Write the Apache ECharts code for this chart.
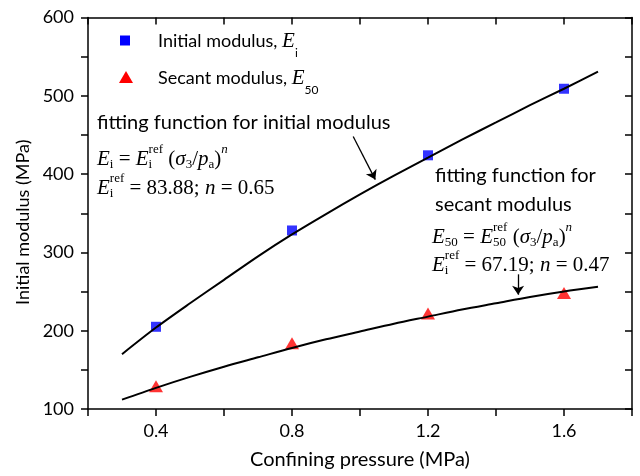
<!DOCTYPE html>
<html>
<head>
<meta charset="utf-8">
<script src="https://cdn.jsdelivr.net/npm/echarts@6/dist/echarts.min.js"></script>
<style>
  html, body { margin: 0; padding: 0; background: #fff; }
  #chart { width: 640px; height: 476px; }
</style>
</head>
<body>
<div id="chart"></div>
<script>
// measured points
var pressure = [0.4, 0.8, 1.2, 1.6];
var initialModulus = [205, 328, 424, 509];
var secantModulus = [129, 184, 222, 248];

// fitted curves
var fitPressure = [0.3, 0.4, 0.5, 0.6, 0.7, 0.8, 0.9, 1.0, 1.1, 1.2, 1.3, 1.4, 1.5, 1.6, 1.7];
var fitInitial = [170, 204, 235, 265, 295, 323, 349, 374, 398, 421, 444, 466, 488, 509, 531];
var fitSecant = [112, 127, 141, 154, 166, 178, 189, 199, 209, 218, 227, 235, 243, 250, 256];

// annotation arrows (data coords)
var arrowInitial = [[0.98, 448], [1.045, 393]];
var arrowSecant = [[1.465, 272], [1.465, 246]];

function pairs(xs, ys) {
  return xs.map(function (x, i) { return [x, ys[i]]; });
}

// --- small text layout helper for the formulas ---
var ctx = document.createElement('canvas').getContext('2d');
var FONTS = {
  sans: '18px Lato',
  big: '20px Lato',
  r: '21px "Liberation Serif"',
  i: 'italic 21px "Liberation Serif"',
  b: '13px "Liberation Serif"',
  p: 'italic 13px "Liberation Serif"',
  st: '13px "Liberation Serif"',
  bs: '12px Lato'
};
var DY = { sans: 0, big: 0, r: 0, i: 0, b: 6, p: -9, bs: 12 };

function width(t, font) {
  ctx.font = font;
  return ctx.measureText(t).width;
}

function txt(t, x, y, font) {
  return {
    type: 'text', x: x, y: y,
    style: { text: t, font: font, fill: '#000', verticalAlign: 'middle' }
  };
}

function formula(x, y, parts) {
  var kids = [], cx = 0;
  parts.forEach(function (p) {
    var t = p[0], k = p[1], f = FONTS[k];
    if (k === 'st') {
      kids.push(txt(t[0], cx, -9, f));
      kids.push(txt(t[1], cx, 6, f));
      cx += Math.max(width(t[0], f), width(t[1], f));
    } else {
      kids.push(txt(t, cx, DY[k], f));
      cx += width(t, f);
    }
  });
  return { type: 'group', x: x, y: y, children: kids };
}

var chart = echarts.init(document.getElementById('chart'));

var axisStyle = { color: '#000', width: 1.5 };
var labelStyle = { fontFamily: 'Lato', fontSize: 18, color: '#000' };

var option = {
  animation: false,
  backgroundColor: '#fff',
  grid: { left: 88, right: 8, top: 17.5, bottom: 67 },
  xAxis: [
    {
      type: 'value', min: 0.2, max: 1.8, interval: 0.2, position: 'bottom',
      axisLine: { lineStyle: axisStyle },
      axisTick: { length: 7, lineStyle: axisStyle },
      axisLabel: Object.assign({
        margin: 13,
        formatter: function (v) {
          var k = Math.round(v * 10);
          return k % 4 === 0 ? v.toFixed(1) : '';
        }
      }, labelStyle),
      splitLine: { show: false },
      name: 'Confining pressure (MPa)',
      nameLocation: 'middle',
      nameGap: 41,
      nameTextStyle: { fontFamily: 'Lato', fontSize: 20, color: '#000' }
    },
    {
      type: 'value', min: 0.2, max: 1.8, interval: 0.2, position: 'top',
      axisLine: { lineStyle: axisStyle },
      axisTick: { inside: true, length: 7, lineStyle: axisStyle },
      axisLabel: { show: false },
      splitLine: { show: false }
    }
  ],
  yAxis: [
    {
      type: 'value', min: 100, max: 600, interval: 50, position: 'left',
      axisLine: { show: true, lineStyle: axisStyle },
      axisTick: { show: true, length: 7, lineStyle: axisStyle },
      axisLabel: Object.assign({
        margin: 14,
        formatter: function (v) { return v % 100 === 0 ? v : ''; }
      }, labelStyle),
      splitLine: { show: false },
      name: 'Initial modulus (MPa)',
      nameLocation: 'middle',
      nameGap: 52,
      nameTextStyle: Object.assign({ padding: [0, 18, 0, 0] }, labelStyle)
    },
    {
      type: 'value', min: 100, max: 600, interval: 50, position: 'right',
      axisLine: { show: true, lineStyle: axisStyle },
      axisTick: { show: true, inside: true, length: 7, lineStyle: axisStyle },
      axisLabel: { show: false },
      splitLine: { show: false }
    }
  ],
  series: [
    {
      name: 'Initial modulus', type: 'scatter', z: 2,
      symbol: 'rect', symbolSize: 10,
      itemStyle: { color: '#0000ff' },
      data: pairs(pressure, initialModulus)
    },
    {
      name: 'Secant modulus', type: 'scatter', z: 2,
      symbol: 'triangle', symbolSize: [14, 12],
      itemStyle: { color: '#ff0000' },
      data: pairs(pressure, secantModulus)
    },
    {
      name: 'Initial fit', type: 'line', z: 3,
      showSymbol: false, smooth: 0.3,
      lineStyle: { color: '#000', width: 2 },
      data: pairs(fitPressure, fitInitial),
      markLine: {
        silent: true, symbol: ['none', 'arrow'], symbolSize: 9,
        lineStyle: { color: '#000', width: 1.3, type: 'solid' },
        label: { show: false },
        data: [[{ coord: arrowInitial[0] }, { coord: arrowInitial[1] }]]
      }
    },
    {
      name: 'Secant fit', type: 'line', z: 3,
      showSymbol: false, smooth: 0.3,
      lineStyle: { color: '#000', width: 2 },
      data: pairs(fitPressure, fitSecant),
      markLine: {
        silent: true, symbol: ['none', 'arrow'], symbolSize: 9,
        lineStyle: { color: '#000', width: 1.3, type: 'solid' },
        label: { show: false },
        data: [[{ coord: arrowSecant[0] }, { coord: arrowSecant[1] }]]
      }
    }
  ],
  graphic: [
    // legend keys
    { type: 'rect', shape: { x: 120, y: 35.5, width: 10, height: 10 }, style: { fill: '#0000ff' } },
    { type: 'polygon', shape: { points: [[126, 71], [133, 83], [119, 83]] }, style: { fill: '#ff0000' } },
    formula(158, 41, [['Initial modulus, ', 'sans'], ['E', 'i'], ['i', 'bs']]),
    formula(158, 78, [['Secant modulus, ', 'sans'], ['E', 'i'], ['50', 'bs']]),

    formula(97, 123, [['fitting function for initial modulus', 'big']]),
    formula(97, 159, [['E', 'i'], ['i', 'b'], [' = ', 'r'], ['E', 'i'], [['ref', 'i'], 'st'],
      [' (', 'r'], ['σ', 'i'], ['3', 'b'], ['/', 'r'], ['p', 'i'], ['a', 'b'], [')', 'r'], ['n', 'p']]),
    formula(97, 188, [['E', 'i'], [['ref', 'i'], 'st'], [' = 83.88; ', 'r'], ['n', 'i'], [' = 0.65', 'r']]),

    formula(435, 176, [['fitting function for', 'big']]),
    formula(435, 205, [['secant modulus', 'big']]),
    formula(432, 237, [['E', 'i'], ['50', 'b'], [' = ', 'r'], ['E', 'i'], [['ref', '50'], 'st'],
      [' (', 'r'], ['σ', 'i'], ['3', 'b'], ['/', 'r'], ['p', 'i'], ['a', 'b'], [')', 'r'], ['n', 'p']]),
    formula(432, 265, [['E', 'i'], [['ref', 'i'], 'st'], [' = 67.19; ', 'r'], ['n', 'i'], [' = 0.47', 'r']])
  ]
};

chart.setOption(option);
</script>
</body>
</html>
